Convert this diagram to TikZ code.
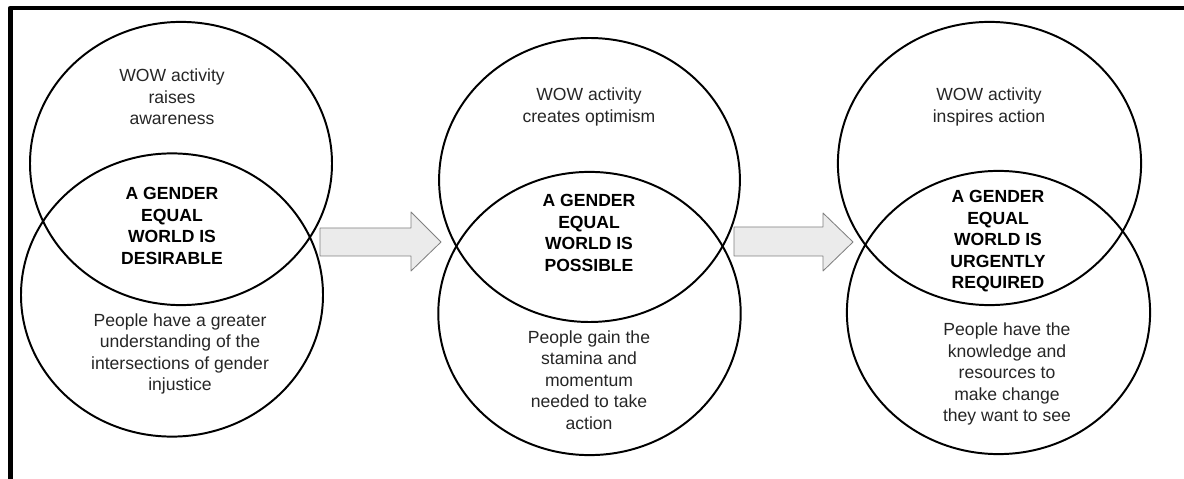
\documentclass[tikz,border=0pt]{standalone}
\usepackage{fontspec}
\setmainfont{Liberation Sans}
\tikzset{
  ring/.style={line width=1.4pt},
  label/.style={align=center, inner sep=0pt, text=black!85},
  claim/.style={align=center, inner sep=0pt, font=\fontsize{12.5}{15.3}\selectfont\bfseries},
  blockarrow/.style={draw=black!50, fill=black!8, line width=0.6pt}
}
\begin{document}
\begin{tikzpicture}[x=0.25mm, y=-0.25mm, font=\fontsize{12.5}{15.3}\selectfont, line join=round, line cap=round]
			\useasboundingbox (0,0) rectangle (1184,479);
			\fill[white] (0,0) rectangle (1184,479);
			% frame
			\draw[line width=3.5pt, line cap=butt] (1184,8) -- (10.5,8) -- (10.5,479);
			% first pair
			\draw[ring] (181,163.5) ellipse [x radius=37.75mm, y radius=35.4mm];
			\draw[ring] (172,295) ellipse [x radius=37.75mm, y radius=35.4mm];
			\node[label] (topA) at (172,97) {WOW activity\\raises\\awareness};
			\node[claim] (midA) at (172,226) {A GENDER\\EQUAL\\WORLD IS\\DESIRABLE};
			\node[label] (botA) at (180,354) {People have a greater\\understanding of the\\intersections of gender\\injustice};
			% second pair
			\draw[ring] (589.5,180) ellipse [x radius=37.6mm, y radius=35.5mm];
			\draw[ring] (589.5,313.5) ellipse [x radius=37.8mm, y radius=35.4mm];
			\node[label] (topB) at (589,107) {WOW activity\\creates optimism};
			\node[claim] (midB) at (589,233) {A GENDER\\EQUAL\\WORLD IS\\POSSIBLE};
			\node[label] (botB) at (589,380) {People gain the\\stamina and\\momentum\\needed to take\\action};
			% third pair
			\draw[ring] (989.5,163.5) ellipse [x radius=37.9mm, y radius=35.4mm];
			\draw[ring] (998.5,312.5) ellipse [x radius=37.9mm, y radius=35.4mm];
			\node[label] (topC) at (989,107) {WOW activity\\inspires action};
			\node[claim] (midC) at (998,241.5) {A GENDER\\EQUAL\\WORLD IS\\URGENTLY\\REQUIRED};
			\node[label] (botC) at (1007,374) {People have the\\knowledge and\\resources to\\make change\\they want to see};
			% arrows
			\draw[blockarrow] (320,228)--(411,228)--(411,212)--(441,242)--(411,271)--(411,256)--(320,256)--cycle;
			\draw[blockarrow] (734,227)--(823,227)--(823,213)--(853,242)--(823,271)--(823,256)--(734,256)--cycle;
		\end{tikzpicture}
\end{document}
